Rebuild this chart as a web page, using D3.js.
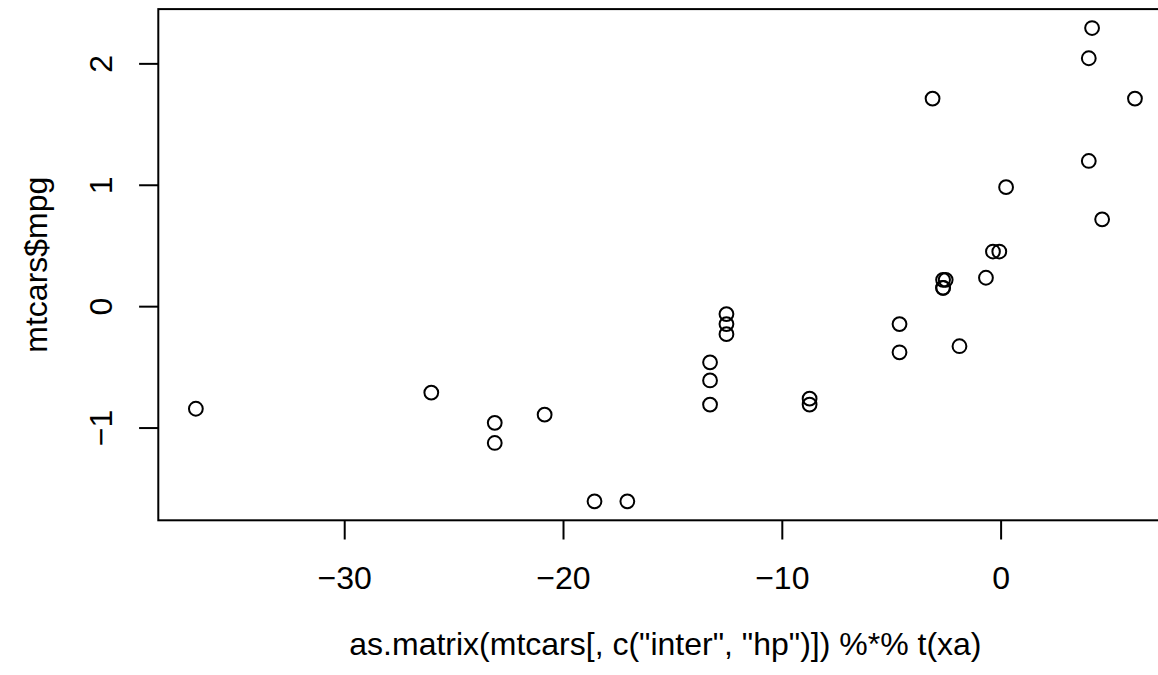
<!DOCTYPE html>
<html><head><meta charset="utf-8">
<script src="https://cdn.jsdelivr.net/npm/d3@7/dist/d3.min.js"></script>
<style>
body{margin:0;background:#fff}
text{font-family:"Liberation Sans",Arial,Helvetica,sans-serif;fill:#000}
</style>
</head><body>
<svg id="chart" width="1158" height="675"></svg>
<script>
// x = as.matrix(mtcars[, c("inter","hp")]) %*% t(xa), y = mtcars$mpg (scaled)
const xVals = [-36.78, -26.02, -23.12, -23.12, -20.84, -18.56, -17.06, 4.18, 4.03, -3.11, 6.14, 4.03, 0.25, 4.64, -0.35, -0.06,
               -2.63, -2.51, -0.67, -2.63, -2.63, -12.53, -12.53, -12.53, -4.62, -4.62, -1.88, -13.28, -13.28, -13.28, -8.73, -8.73];
const yVals = [-0.845, -0.712, -0.961, -1.127, -0.894, -1.608, -1.608, 2.291, 2.042, 1.710, 1.710, 1.196, 0.980, 0.715, 0.450, 0.450,
               0.217, 0.217, 0.234, 0.151, 0.151, -0.065, -0.148, -0.231, -0.148, -0.380, -0.330, -0.612, -0.463, -0.811, -0.762, -0.811];
const xTicks = [-30, -20, -10, 0];
const yTicks = [-1, 0, 1, 2];
const xTitle = 'as.matrix(mtcars[, c("inter", "hp")]) %*% t(xa)';
const yTitle = 'mtcars$mpg';

const svg = d3.select("#chart");
const L = 158.3, T = 9.1, B = 520.3;
const PX_PER_X = 21.88;
const FS = 32, LINE = 38.4, TITLE_LINE = 2.7;

function padded(vals){
  const [a,b] = d3.extent(vals); const r = b - a;
  return [a - 0.04*r, b + 0.04*r];
}
const xDom = padded(xVals);
const R = L + (xDom[1] - xDom[0]) * PX_PER_X;   // plot region extends past the right edge of the picture
const x = d3.scaleLinear().domain(xDom).range([L, R]);
const y = d3.scaleLinear().domain(padded(yVals)).range([B, T]);
const fmt = v => (v < 0 ? "\u2212" + Math.abs(v) : String(v));

// box
svg.append("rect").attr("x", L).attr("y", T).attr("width", R - L).attr("height", B - T)
  .attr("fill", "none").attr("stroke", "#000").attr("stroke-width", 2);

// x axis
const xa = svg.append("g").attr("transform", `translate(0,${B})`)
  .call(d3.axisBottom(x).tickValues(xTicks).tickSize(19.2).tickPadding(0).tickFormat(fmt));
xa.select(".domain").remove();
xa.selectAll(".tick line").attr("stroke", "#000").attr("stroke-width", 2);
xa.selectAll(".tick text").attr("font-size", FS).attr("dy", null).attr("y", 1.8 * LINE)
  .attr("font-family", '"Liberation Sans",Arial,sans-serif').attr("fill", "#000");

// y axis
const ya = svg.append("g").attr("transform", `translate(${L},0)`)
  .call(d3.axisLeft(y).tickValues(yTicks).tickSize(19.2).tickPadding(0).tickFormat(fmt));
ya.select(".domain").remove();
ya.selectAll(".tick line").attr("stroke", "#000").attr("stroke-width", 2);
ya.selectAll(".tick text").attr("font-size", FS).attr("x", null).attr("dy", null)
  .attr("text-anchor", "middle").attr("transform", `translate(${-1.2 * LINE},0) rotate(-90)`)
  .attr("font-family", '"Liberation Sans",Arial,sans-serif').attr("fill", "#000");

// points
svg.append("g").selectAll("circle").data(xVals.map((v, i) => [v, yVals[i]])).join("circle")
  .attr("cx", d => x(d[0])).attr("cy", d => y(d[1])).attr("r", 6.9)
  .attr("fill", "none").attr("stroke", "#000").attr("stroke-width", 2);

// titles
svg.append("text").attr("x", (L + R) / 2).attr("y", B + (TITLE_LINE + 0.8) * LINE)
  .attr("text-anchor", "middle").attr("font-size", FS).text(xTitle);
svg.append("text").attr("transform", `translate(${L - (TITLE_LINE + 0.2) * LINE},${(T + B) / 2}) rotate(-90)`)
  .attr("text-anchor", "middle").attr("font-size", FS).text(yTitle);
</script>
</body></html>
